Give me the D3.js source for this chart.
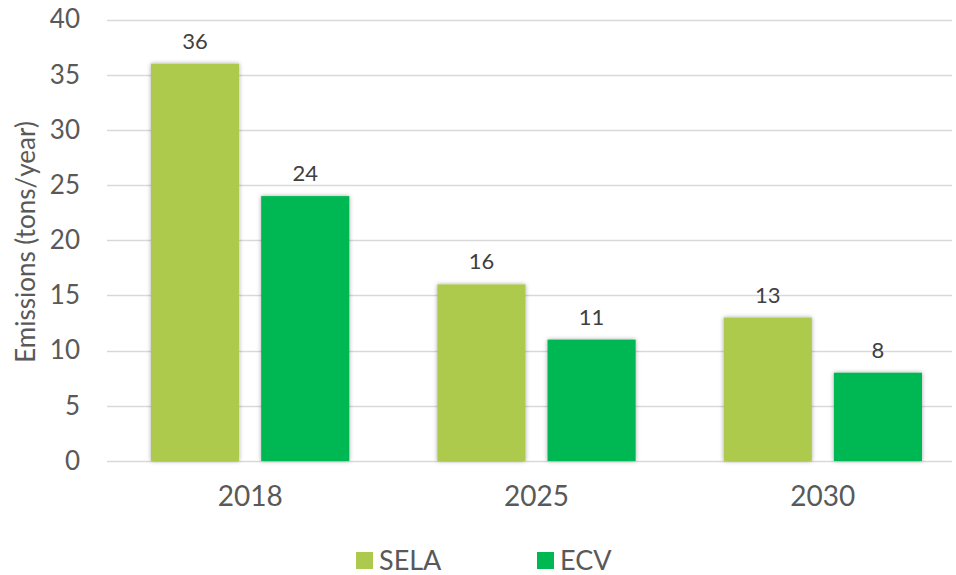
<!DOCTYPE html>
<html><head><meta charset="utf-8">
<script src="https://cdn.jsdelivr.net/npm/d3@7"></script>
<style>body{margin:0;background:#fff}svg{display:block;font-family:"Lato","DejaVu Sans",sans-serif}</style>
</head><body>
<svg id="c" width="956" height="575"></svg>
<script>
const categories = ["2018", "2025", "2030"];
const seriesNames = ["SELA", "ECV"];
const selaValues = [36, 16, 13];
const ecvValues = [24, 11, 8];
const yTicks = [0, 5, 10, 15, 20, 25, 30, 35, 40];
const colors = {SELA: "#adca4e", ECV: "#00b852"};

(function () {
const svg = d3.select("#c");
const pLeft = 107, pRight = 966, pTop = 19.5, pBottom = 461;
const defs = svg.append("defs");
const f = defs.append("filter").attr("id", "sh").attr("x", "-20%").attr("y", "-20%").attr("width", "140%").attr("height", "140%");
f.append("feDropShadow").attr("dx", 0).attr("dy", 0).attr("stdDeviation", 2.2).attr("flood-color", "#000").attr("flood-opacity", 0.35);

const y = d3.scaleLinear().domain([0, 40]).range([pBottom, pTop]);
const x0 = d3.scaleBand().domain(categories).range([pLeft, pRight]).padding(0);
const bw = x0.bandwidth();
const x1 = d3.scaleBand().domain(seriesNames).range([bw * 0.1537, bw * (1 - 0.1537)]).paddingInner(0.2).paddingOuter(0);

// gridlines
svg.append("g").selectAll("line").data(yTicks).join("line")
  .attr("x1", pLeft).attr("x2", 952)
  .attr("y1", d => Math.round(y(d)) + 0.5).attr("y2", d => Math.round(y(d)) + 0.5)
  .attr("stroke", "#d9d9d9").attr("stroke-width", 1.5);

// y axis labels
const yAxis = d3.axisLeft(y).tickValues(yTicks).tickSize(0).tickPadding(0);
const ya = svg.append("g").attr("transform", "translate(80,0)").call(yAxis);
ya.select(".domain").remove();
ya.selectAll("text").attr("font-size", 26).attr("fill", "#595959").attr("font-family", "Lato, DejaVu Sans, sans-serif");

// x axis labels
const xAxis = d3.axisBottom(x0).tickSize(0).tickPadding(0);
const xa = svg.append("g").attr("transform", "translate(0,486)").call(xAxis);
xa.select(".domain").remove();
xa.selectAll("text").attr("font-size", 28).attr("fill", "#595959").attr("font-family", "Lato, DejaVu Sans, sans-serif");

// bars
const data = categories.map((c, i) => ({cat: c, vals: [{s: "SELA", v: selaValues[i]}, {s: "ECV", v: ecvValues[i]}]}));
const g = svg.append("g").selectAll("g").data(data).join("g")
  .attr("transform", d => `translate(${x0(d.cat)},0)`);
g.selectAll("rect").data(d => d.vals).join("rect")
  .attr("x", d => x1(d.s)).attr("width", x1.bandwidth())
  .attr("y", d => y(d.v)).attr("height", d => y(0) - y(d.v))
  .attr("fill", d => colors[d.s]).attr("filter", "url(#sh)");
g.selectAll("text").data(d => d.vals).join("text")
  .attr("x", d => x1(d.s) + x1.bandwidth() / 2).attr("y", d => y(d.v) - 15)
  .attr("text-anchor", "middle").attr("font-size", 22).attr("fill", "#404040")
  .text(d => d.v);

// y title
svg.append("text").attr("transform", "translate(35,242) rotate(-90)")
  .attr("text-anchor", "middle").attr("font-size", 26).attr("fill", "#595959")
  .text("Emissions (tons/year)");

// legend
const legX = [356, 537];
const lg = svg.append("g").selectAll("g").data(seriesNames).join("g")
  .attr("transform", (d, i) => `translate(${legX[i]},552)`);
lg.append("rect").attr("width", 17).attr("height", 17).attr("fill", d => colors[d]);
lg.append("text").attr("x", 23).attr("y", 18).attr("font-size", 27).attr("fill", "#595959").text(d => d);
})();
</script>
</body></html>
